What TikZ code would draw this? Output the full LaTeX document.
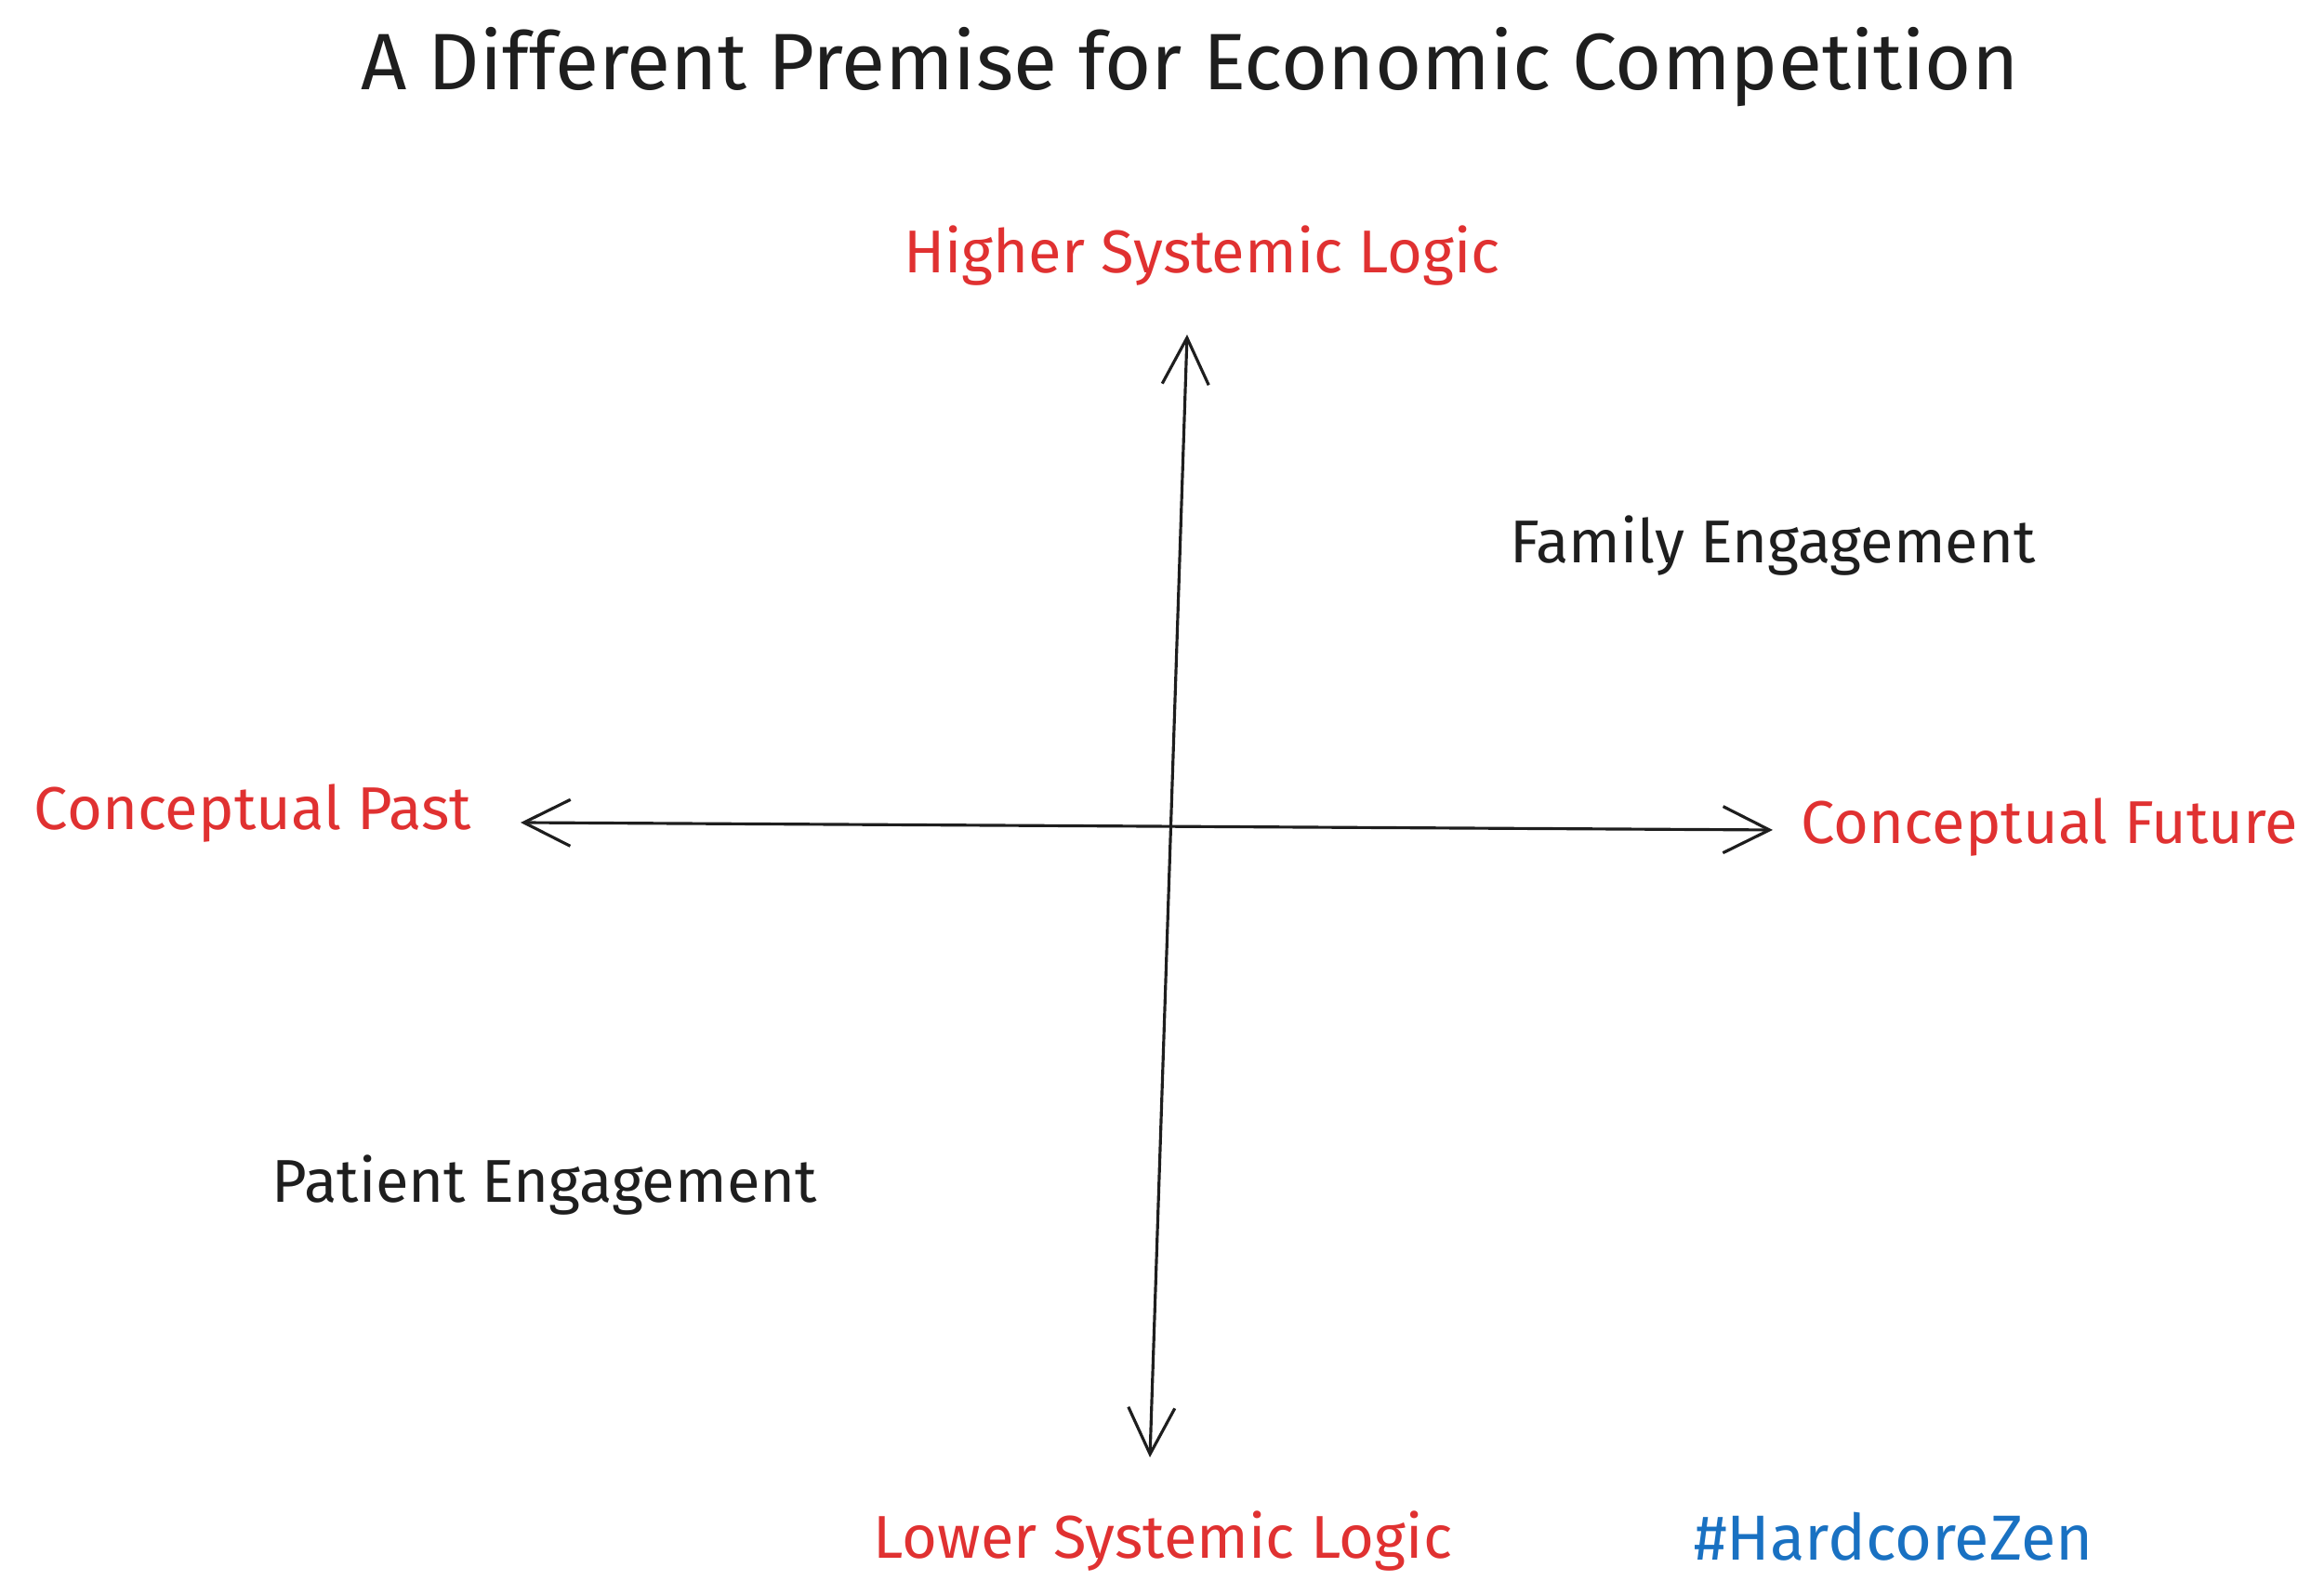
\documentclass[tikz,border=0pt]{standalone}
\usepackage{fontspec}
\setmainfont{Fira Sans}
\usetikzlibrary{arrows.meta}
\definecolor{ink}{HTML}{1E1E1E}
\definecolor{xred}{HTML}{E03131}
\definecolor{xblue}{HTML}{1971C2}
\begin{document}
\begin{tikzpicture}[x=1cm,y=1cm,
  lbl/.style={font=\fontsize{18.5}{22}\selectfont, text=ink},
  red/.style={lbl, text=xred},
  ax/.style={draw=ink, line width=0.9pt, <->, >={Straight Barb[length=5mm,width=5mm]}}]
\useasboundingbox (0,0) rectangle (25,17.15);
\node[font=\fontsize{24.5}{30}\selectfont, text=ink] (title) at (12.8,16.43) {A Different Premise for Economic Competition};
\coordinate (top) at (12.77,13.55);
\coordinate (bot) at (12.37,1.47);
\coordinate (lft) at (5.6,8.3);
\coordinate (rgt) at (19.07,8.22);
\draw[ax] (bot) -- (top);
\draw[ax] (lft) -- (rgt);
\node[red] (hi) at (12.93,14.40) {Higher Systemic Logic};
\node[red] (lo) at (12.51,0.57) {Lower Systemic Logic};
\node[red] (past) at (2.72,8.4) {Conceptual Past};
\node[red] (fut) at (22.05,8.25) {Conceptual Future};
\node[lbl] (fam) at (19.07,11.28) {Family Engagement};
\node[lbl] (pat) at (5.86,4.40) {Patient Engagement};
\node[lbl, font=\fontsize{19.5}{23}\selectfont, text=xblue] (tag) at (20.37,0.62) {\#HardcoreZen};
\end{tikzpicture}
\end{document}
